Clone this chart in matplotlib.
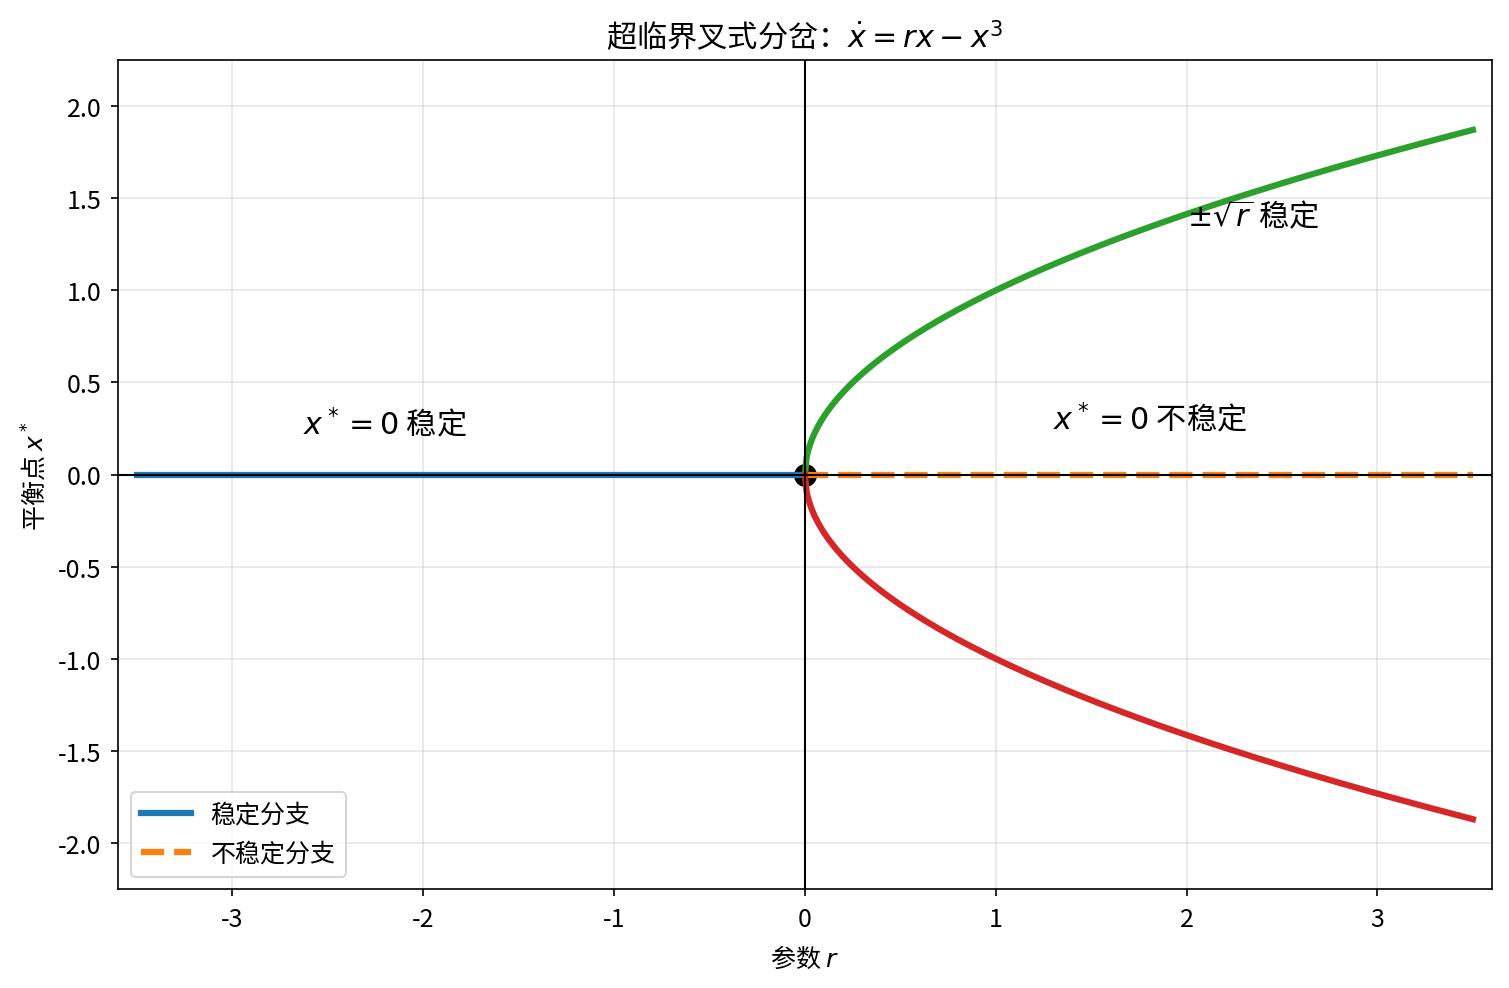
import numpy as np
import matplotlib
matplotlib.use('Agg')
import matplotlib.pyplot as plt

plt.rcParams['font.family'] = ['Noto Sans CJK SC', 'DejaVu Sans']
plt.rcParams['axes.unicode_minus'] = False

# 参数范围
r_neg = np.linspace(-3.5, 0, 200)
r_pos = np.linspace(0, 3.5, 400)
x_upper = np.sqrt(r_pos)
x_lower = -np.sqrt(r_pos)

x_ticks = [-3, -2, -1, 0, 1, 2, 3]
y_ticks = [-2.0, -1.5, -1.0, -0.5, 0.0, 0.5, 1.0, 1.5, 2.0]

fig = plt.figure(figsize=(10.06, 6.593), dpi=150)
ax = fig.add_axes([0.0782, 0.1001, 0.9105, 0.8382])

ax.plot(r_neg, np.zeros_like(r_neg), color='#1f77b4', linewidth=3, label='稳定分支')
ax.plot(r_pos, np.zeros_like(r_pos), color='#ff7f0e', linewidth=3, linestyle='--', label='不稳定分支')
ax.plot(r_pos, x_upper, color='#2ca02c', linewidth=3)
ax.plot(r_pos, x_lower, color='#d62728', linewidth=3)
ax.plot(0, 0, 'o', color='black', markersize=10, zorder=1.5)

ax.axhline(0, color='black', linewidth=1)
ax.axvline(0, color='black', linewidth=1)

ax.text(-2.63, 0.22, r'$x^* = 0$ 稳定', fontsize=14.5)
ax.text(1.3, 0.25, r'$x^* = 0$ 不稳定', fontsize=14.5)
ax.text(2.0, 1.35, r'$\pm\sqrt{r}$ 稳定', fontsize=14.5)

ax.set_xlim(-3.6, 3.6)
ax.set_ylim(-2.25, 2.25)
ax.set_xticks(x_ticks)
ax.set_yticks(y_ticks)
ax.tick_params(labelsize=12, pad=4.5)
ax.set_xlabel('参数 $r$', fontsize=12, labelpad=6)
ax.set_ylabel('平衡点 $x^*$', fontsize=12)
ax.set_title(r'超临界叉式分岔：$\dot{x} = rx - x^3$', fontsize=14.5)
ax.grid(True, alpha=0.3)
ax.legend(loc='lower left', fontsize=12)

fig.savefig('out.png', dpi=150)
